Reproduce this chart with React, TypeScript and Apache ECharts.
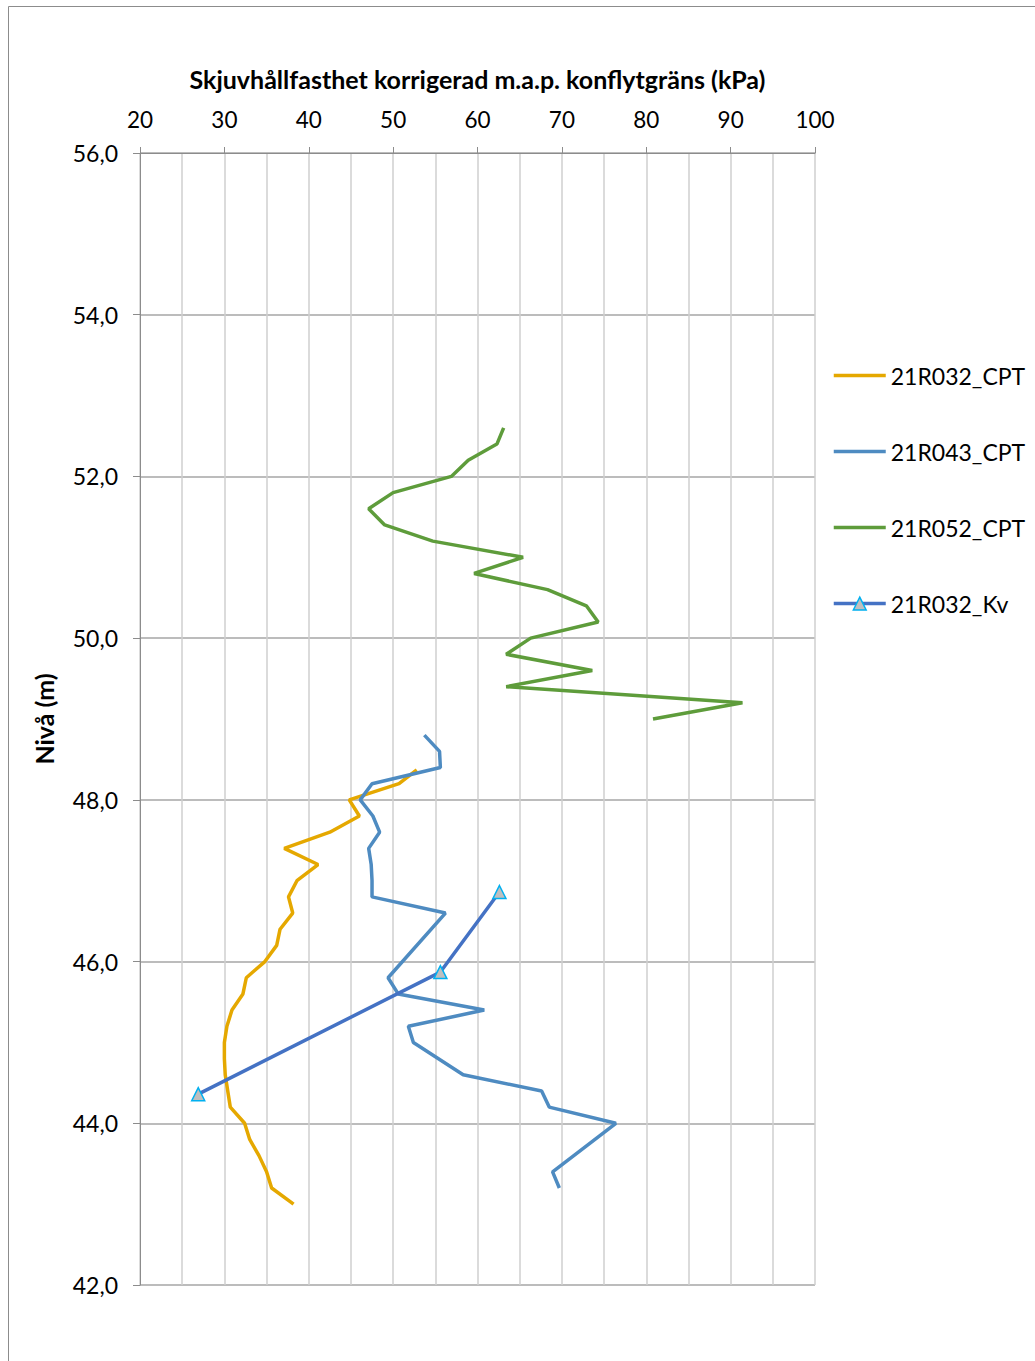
import React, { useEffect, useRef } from "react";
import * as echarts from "echarts";

const xTicks = { min: 20, max: 100, interval: 10 };
const yTicks = { min: 42, max: 56, interval: 2 };

const r032CptDepth = [48.37, 48.2, 48.0, 47.8, 47.6, 47.4, 47.2, 47.0, 46.8, 46.6, 46.4, 46.2, 46.0, 45.8, 45.6, 45.4, 45.2, 45.0, 44.8, 44.6, 44.4, 44.2, 44.0, 43.8, 43.6, 43.4, 43.2, 43.0];
const r032CptValue = [52.8, 50.7, 44.8, 46.0, 42.5, 37.1, 41.1, 38.6, 37.6, 38.1, 36.6, 36.2, 34.8, 32.6, 32.2, 30.9, 30.3, 30.0, 30.0, 30.1, 30.4, 30.7, 32.4, 33.0, 34.1, 35.0, 35.6, 38.2];

const r043CptDepth = [48.8, 48.6, 48.4, 48.2, 48.0, 47.8, 47.6, 47.4, 47.2, 47.0, 46.8, 46.6, 45.8, 45.6, 45.4, 45.2, 45.0, 44.6, 44.4, 44.2, 44.0, 43.4, 43.2];
const r043CptValue = [53.7, 55.5, 55.6, 47.5, 46.1, 47.6, 48.4, 47.1, 47.4, 47.5, 47.5, 56.2, 49.4, 50.6, 60.8, 51.8, 52.4, 58.3, 67.6, 68.5, 76.4, 68.9, 69.7];

const r052CptDepth = [52.6, 52.4, 52.2, 52.0, 51.8, 51.6, 51.4, 51.2, 51.0, 50.8, 50.6, 50.4, 50.2, 50.0, 49.8, 49.6, 49.4, 49.2, 49.0];
const r052CptValue = [63.1, 62.3, 58.9, 56.9, 50.0, 47.1, 49.0, 54.7, 65.4, 59.6, 68.3, 72.9, 74.3, 66.3, 63.4, 73.6, 63.4, 91.4, 80.8];

const r032KvDepth = [46.86, 45.87, 44.36];
const r032KvValue = [62.6, 55.6, 26.9];

const seriesNames = ["21R032_CPT", "21R043_CPT", "21R052_CPT", "21R032_Kv"];
const seriesColors = ["#E5A800", "#4E8BC1", "#5E9C3B", "#4472C4"];

const FONT = "Lato";

function pairs(vals: number[], depths: number[]) {
  return vals.map((v, i) => [v, depths[i]]);
}

export default function App() {
  const ref = useRef<HTMLDivElement>(null);
  useEffect(() => {
    if (!ref.current) return;
    const chart = echarts.init(ref.current, null, { renderer: "svg" });
    const lineSeries = (idx: number, data: number[][]) => ({
      name: seriesNames[idx],
      type: "line",
      data,
      showSymbol: false,
      symbol: "none",
      lineStyle: { color: seriesColors[idx], width: 3.5 },
      itemStyle: { color: seriesColors[idx] },
    });
    chart.setOption({
      animation: false,
      textStyle: { fontFamily: FONT },
      graphic: [
        {
          type: "rect",
          shape: { x: 8.5, y: 6.5, width: 1200, height: 1500 },
          style: { fill: "none", stroke: "#8c8c8c", lineWidth: 1 },
          silent: true,
        },
      ],
      grid: { left: 140, right: 220, top: 153, bottom: 76, containLabel: false },
      legend: {
        orient: "vertical",
        left: 832,
        top: 364,
        padding: 0,
        itemWidth: 52,
        itemHeight: 16,
        itemGap: 53,
        textStyle: { fontFamily: FONT, fontSize: 23, color: "#000" },
        data: seriesNames.map((n, i) =>
          i === 3
            ? {
                name: n,
                itemStyle: { color: "#BFBFBF", borderColor: "#00B0F0", borderWidth: 1.5 },
                lineStyle: { color: seriesColors[i], width: 3.5 },
              }
            : {
                name: n,
                itemStyle: { color: "rgba(0,0,0,0)", borderColor: "rgba(0,0,0,0)", borderWidth: 0 },
                lineStyle: { color: seriesColors[i], width: 3.5 },
              }
        ),
      },
      xAxis: {
        type: "value",
        position: "top",
        min: xTicks.min,
        max: xTicks.max,
        interval: xTicks.interval,
        name: "Skjuvhållfasthet korrigerad m.a.p. konflytgräns (kPa)",
        nameLocation: "middle",
        nameGap: 62,
        nameTextStyle: { fontFamily: FONT, fontSize: 25, fontWeight: "bold", color: "#000" },
        axisLine: { show: true, lineStyle: { color: "#8c8c8c", width: 1 } },
        axisTick: { show: true, inside: false, length: 6, lineStyle: { color: "#8c8c8c" } },
        axisLabel: { fontFamily: FONT, fontSize: 22.5, color: "#000", margin: 22 },
        splitLine: { show: true, lineStyle: { color: "#cfcfcf", width: 1.5 } },
        minorTick: { show: false, splitNumber: 2 },
        minorSplitLine: { show: true, lineStyle: { color: "#cfcfcf", width: 1.5 } },
      },
      yAxis: {
        type: "value",
        min: yTicks.min,
        max: yTicks.max,
        interval: yTicks.interval,
        name: "Nivå (m)",
        nameLocation: "middle",
        nameGap: 84,
        nameRotate: 90,
        nameTextStyle: { fontFamily: FONT, fontSize: 25, fontWeight: "bold", color: "#000" },
        axisLine: { show: true, lineStyle: { color: "#8c8c8c", width: 1 } },
        axisTick: { show: true, inside: false, length: 7, lineStyle: { color: "#8c8c8c" } },
        axisLabel: {
          fontFamily: FONT,
          fontSize: 23,
          color: "#000",
          margin: 22,
          formatter: (v: number) => v.toFixed(1).replace(".", ","),
        },
        splitLine: { show: true, lineStyle: { color: "#a6a6a6", width: 1.5 } },
      },
      series: [
        lineSeries(0, pairs(r032CptValue, r032CptDepth)),
        lineSeries(1, pairs(r043CptValue, r043CptDepth)),
        lineSeries(2, pairs(r052CptValue, r052CptDepth)),
        {
          name: seriesNames[3],
          type: "line",
          data: pairs(r032KvValue, r032KvDepth),
          symbol: "triangle",
          symbolSize: 13,
          showSymbol: true,
          lineStyle: { color: seriesColors[3], width: 3.5 },
          itemStyle: { color: "#BFBFBF", borderColor: "#00B0F0", borderWidth: 1.5 },
        },
      ],
    });
    return () => chart.dispose();
  }, []);
  return (
    <div
      ref={ref}
      style={{ position: "fixed", left: 0, top: 0, width: 1035, height: 1361, background: "#fff" }}
    />
  );
}
